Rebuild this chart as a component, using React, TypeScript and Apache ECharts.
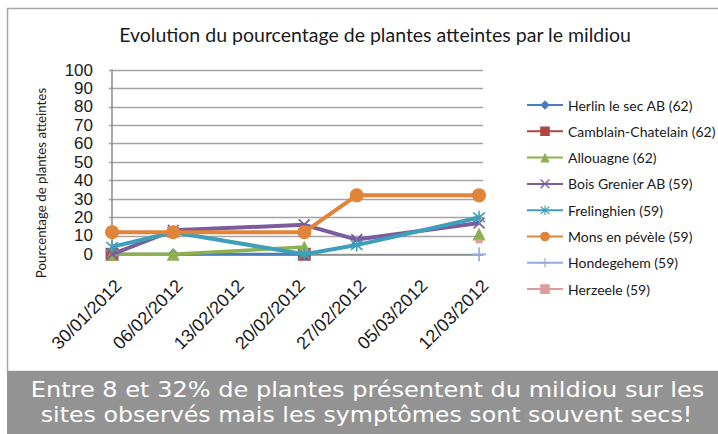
import React, { useEffect, useRef } from "react";
import * as echarts from "echarts";

const pointDates = ["30/01/2012", "06/02/2012", "21/02/2012", "27/02/2012", "12/03/2012"];
const tickLabels = ["30/01/2012", "06/02/2012", "13/02/2012", "20/02/2012", "27/02/2012", "05/03/2012", "12/03/2012"];
const yTicks = [0, 10, 20, 30, 40, 50, 60, 70, 80, 90, 100];

const seriesNames = [
  "Herlin le sec AB (62)",
  "Camblain-Chatelain (62)",
  "Allouagne (62)",
  "Bois Grenier AB (59)",
  "Frelinghien (59)",
  "Mons en pévèle (59)",
  "Hondegehem (59)",
  "Herzeele (59)",
];

const herlin = [0, 0, 0, null, null];
const camblain = [0, null, 0, null, null];
const allouagne = [0, 0, 4, null, 11];
const boisGrenier = [0, 13, 16, 8, 17];
const frelinghien = [4, 12, 0, 5, 20];
const mons = [12, 12, 12, 32, 32];
const hondegehem = [null, null, null, null, 0];
const herzeele = [null, null, null, null, 7];

const seriesValues = [herlin, camblain, allouagne, boisGrenier, frelinghien, mons, hondegehem, herzeele];

const TITLE = "Evolution du pourcentage de plantes atteintes par le mildiou";
const Y_NAME = "Pourcentage de plantes atteintes";
const NOTE_1 = "Entre 8 et 32% de plantes présentent du mildiou sur les";
const NOTE_2 = "sites observés mais les symptômes sont souvent secs!";

const NARROW = "Lato, 'Liberation Sans', sans-serif";
const SANS = "'Liberation Sans', Arial, sans-serif";

const colors = ["#4A7EBB", "#B04643", "#8FB04E", "#7B5C9E", "#3E9FBA", "#E0843A", "#94ACD6", "#DE9C9A"];

const X_PATH = "path://M1,0 L5,4 L9,0 L10,1 L6,5 L10,9 L9,10 L5,6 L1,10 L0,9 L4,5 L0,1 Z";
const STAR_PATH =
  "path://M1,1 L5,5 L9,1 L10,2 L6,6 L10,10 L9,11 L5,7 L1,11 L0,10 L4,6 L0,2 Z M4.4,0 L5.6,0 L5.6,12 L4.4,12 Z";
const PLUS_PATH =
  "path://M4.4,0 L5.6,0 L5.6,4.4 L10,4.4 L10,5.6 L5.6,5.6 L5.6,10 L4.4,10 L4.4,5.6 L0,5.6 L0,4.4 L4.4,4.4 Z";

const symbols: any[] = ["diamond", "rect", "triangle", X_PATH, STAR_PATH, "circle", PLUS_PATH, "rect"];
const symbolSizes: any[] = [12, 13, 13, 12, 13, 14, 14, [7, 4]];
const lineWidths = [3, 3, 3.5, 4, 4, 4, 3, 3];

function dayOffset(s: string): number {
  const [d, m, y] = s.split("/").map(Number);
  return Math.round((Date.UTC(y, m - 1, d) - Date.UTC(2012, 0, 30)) / 86400000);
}

export default function App() {
  const ref = useRef<HTMLDivElement>(null);

  useEffect(() => {
    if (!ref.current) return;
    const chart = echarts.init(ref.current, null, { renderer: "svg" });
    const xs = pointDates.map(dayOffset);
    const tickVals = tickLabels.map(dayOffset);

    const series = seriesNames.map((name, i) => ({
      name,
      type: "line",
      data: seriesValues[i].map((v, j) => [xs[j], v === null ? "-" : v]),
      symbol: symbols[i],
      symbolSize: symbolSizes[i],
      showSymbol: true,
      showAllSymbol: true,
      connectNulls: false,
      lineStyle: { color: colors[i], width: lineWidths[i] },
      itemStyle: { color: colors[i], borderWidth: 0 },
      emphasis: { disabled: true },
      z: 2 + i,
    }));

    chart.setOption({
      animation: false,
      color: colors,
      title: {
        text: TITLE,
        left: 370,
        top: 19,
        textAlign: "center",
        textStyle: { fontFamily: NARROW, fontSize: 19.5, fontWeight: "normal", color: "#1a1a1a" },
      },
      legend: {
        orient: "vertical",
        left: 526,
        top: 97,
        padding: 0,
        itemWidth: 36,
        itemHeight: 12,
        itemGap: 10.3,
        data: seriesNames,
        lineStyle: { width: 2 },
        textStyle: { fontFamily: NARROW, fontSize: 14, color: "#1a1a1a", lineHeight: 16 },
      },
      grid: { left: 109, top: 70, width: 374, height: 184.3, containLabel: false },
      xAxis: {
        type: "value",
        min: -0.35,
        max: 42.45,
        axisLine: { show: true, lineStyle: { color: "#8a8a8a", width: 1.5 } },
        axisTick: { show: false },
        splitLine: { show: false },
        axisLabel: {
          customValues: tickVals,
          rotate: 45,
          align: "right",
          verticalAlign: "top",
          margin: 22,
          fontFamily: SANS,
          fontSize: 18,
          color: "#1a1a1a",
          formatter: (v: number) => {
            const idx = tickVals.indexOf(Math.round(v));
            return idx >= 0 ? tickLabels[idx] : "";
          },
        },
      },
      yAxis: {
        type: "value",
        min: yTicks[0],
        max: yTicks[yTicks.length - 1],
        interval: 10,
        axisLine: { show: true, lineStyle: { color: "#8a8a8a", width: 1.5 } },
        axisTick: { show: false },
        splitLine: { show: true, lineStyle: { color: "#a3a3a3", width: 1.4 } },
        axisLabel: { margin: 16, fontFamily: SANS, fontSize: 17, color: "#1a1a1a" },
      },
      graphic: [
        {
          type: "rect",
          shape: { x: 7.5, y: 8.5, width: 720, height: 363 },
          style: { fill: "none", stroke: "#a8a8a8", lineWidth: 1.5 },
          silent: true,
          z: 0,
        },
        {
          type: "rect",
          shape: { x: 7, y: 371, width: 711, height: 63 },
          style: { fill: "#939393" },
          silent: true,
          z: 1,
        },
        {
          type: "text",
          x: 367.5,
          y: 390,
          scaleX: 1.145,
          style: {
            text: NOTE_1,
            fill: "#ffffff",
            fontSize: 21,
            fontFamily: "'DejaVu Sans', sans-serif",
            align: "center",
            verticalAlign: "middle",
          },
          z: 2,
        },
        {
          type: "text",
          x: 366.5,
          y: 415,
          scaleX: 1.13,
          style: {
            text: NOTE_2,
            fill: "#ffffff",
            fontSize: 21,
            fontFamily: "'DejaVu Sans', sans-serif",
            align: "center",
            verticalAlign: "middle",
          },
          z: 2,
        },
        {
          type: "text",
          x: 41,
          y: 183,
          rotation: Math.PI / 2,
          style: {
            text: Y_NAME,
            fill: "#1a1a1a",
            fontSize: 13.3,
            fontFamily: NARROW,
            align: "center",
            verticalAlign: "middle",
          },
          z: 2,
        },
      ],
      series,
    });

    return () => chart.dispose();
  }, []);

  return (
    <div
      ref={ref}
      style={{ position: "fixed", left: 0, top: 0, width: 718, height: 434, background: "#ffffff" }}
    />
  );
}
